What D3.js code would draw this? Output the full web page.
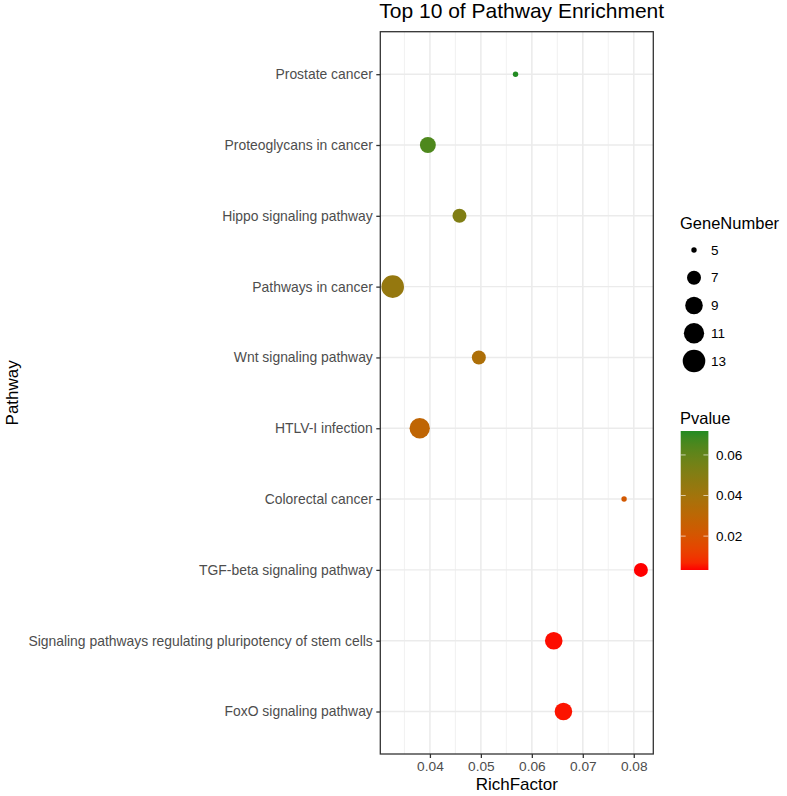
<!DOCTYPE html>
<html>
<head>
  <title>Top 10 of Pathway Enrichment</title>
  <script type="text/javascript" src="https://d3js.org/d3.v7.min.js"></script>
  <style>
    body { margin: 0; background: #fff; }
    text { font-family: "Liberation Sans", Arial, sans-serif; }
  </style>
</head>
<body>
  <div class="chart"></div>

  <script type="text/javascript">
    // pathways, top to bottom as drawn
    const pathways = [
      "Prostate cancer",
      "Proteoglycans in cancer",
      "Hippo signaling pathway",
      "Pathways in cancer",
      "Wnt signaling pathway",
      "HTLV-I infection",
      "Colorectal cancer",
      "TGF-beta signaling pathway",
      "Signaling pathways regulating pluripotency of stem cells",
      "FoxO signaling pathway"
    ];
    const richFactor = [0.0568, 0.0396, 0.0458, 0.0327, 0.0496, 0.0380, 0.0781, 0.0814, 0.0643, 0.0662];
    const geneNumber = [5, 8, 7, 13, 7, 11, 5, 7, 9, 9];
    const pvalue = [0.0718, 0.0650, 0.0515, 0.0445, 0.0360, 0.0292, 0.0218, 0.0033, 0.0040, 0.0045];

    const xTicks = [0.04, 0.05, 0.06, 0.07, 0.08];
    const sizeBreaks = [5, 7, 9, 11, 13];
    const pTicks = [0.02, 0.04, 0.06];

    const data = pathways.map((p, i) => ({
      name: p, rf: richFactor[i], n: geneNumber[i], p: pvalue[i]
    }));

    const width = 787, height = 796;
    const panel = { left: 380.3, right: 653.3, top: 31.7, bottom: 754 };

    const svg = d3.select(".chart").append("svg")
      .attr("width", width)
      .attr("height", height);

    // scales (ggplot-like 5% expansion on x)
    const ext = d3.extent(richFactor);
    const pad = (ext[1] - ext[0]) * 0.05;
    const x = d3.scaleLinear()
      .domain([ext[0] - pad, ext[1] + pad])
      .range([panel.left, panel.right]);

    const y = d3.scalePoint()
      .domain(pathways)
      .range([panel.top, panel.bottom])
      .padding(0.6);

    const nExt = d3.extent(geneNumber);
    const rLin = d3.scaleLinear().domain([0, 1]).range([2.7, 11.3]);
    const r = v => rLin(Math.sqrt((v - nExt[0]) / (nExt[1] - nExt[0])));

    const pExt = d3.extent(pvalue);
    const color = d3.scaleLinear()
      .domain(pExt)
      .range(["red", "forestgreen"])
      .interpolate(d3.interpolateLab);

    // panel grid
    const minor = d3.range(0.03, 0.0851, 0.005).filter(v => x(v) > panel.left && x(v) < panel.right);
    svg.selectAll("line.minor")
      .data(minor)
      .enter().append("line")
      .attr("class", "minor")
      .attr("x1", d => x(d)).attr("x2", d => x(d))
      .attr("y1", panel.top).attr("y2", panel.bottom)
      .attr("stroke", "#ebebeb").attr("stroke-width", 0.7);

    svg.selectAll("line.vmajor")
      .data(xTicks)
      .enter().append("line")
      .attr("class", "vmajor")
      .attr("x1", d => x(d)).attr("x2", d => x(d))
      .attr("y1", panel.top).attr("y2", panel.bottom)
      .attr("stroke", "#ebebeb").attr("stroke-width", 1.4);

    svg.selectAll("line.hmajor")
      .data(pathways)
      .enter().append("line")
      .attr("class", "hmajor")
      .attr("x1", panel.left).attr("x2", panel.right)
      .attr("y1", d => y(d)).attr("y2", d => y(d))
      .attr("stroke", "#ebebeb").attr("stroke-width", 1.4);

    // points
    svg.selectAll("circle.pt")
      .data(data)
      .enter().append("circle")
      .attr("class", "pt")
      .attr("cx", d => x(d.rf))
      .attr("cy", d => y(d.name))
      .attr("r", d => r(d.n))
      .attr("fill", d => color(d.p));

    // border
    svg.append("rect")
      .attr("x", panel.left).attr("y", panel.top)
      .attr("width", panel.right - panel.left)
      .attr("height", panel.bottom - panel.top)
      .attr("fill", "none").attr("stroke", "#333333").attr("stroke-width", 1.3);

    // x axis
    const xAxis = svg.append("g")
      .attr("transform", `translate(0,${panel.bottom})`)
      .call(d3.axisBottom(x).tickValues(xTicks).tickSize(4).tickPadding(3.5).tickFormat(d3.format(".2f")));
    xAxis.select(".domain").remove();
    xAxis.selectAll(".tick line").attr("stroke", "#333333").attr("stroke-width", 1.3);
    xAxis.selectAll(".tick text")
      .attr("fill", "#4d4d4d").attr("font-size", "13.7px")
      .style("font-family", "Liberation Sans, Arial, sans-serif");

    // y axis
    const yAxis = svg.append("g")
      .attr("transform", `translate(${panel.left},0)`)
      .call(d3.axisLeft(y).tickSize(4).tickPadding(3.5));
    yAxis.select(".domain").remove();
    yAxis.selectAll(".tick line").attr("stroke", "#333333").attr("stroke-width", 1.3);
    yAxis.selectAll(".tick text")
      .attr("fill", "#4d4d4d").attr("font-size", "13.9px")
      .style("font-family", "Liberation Sans, Arial, sans-serif");

    // titles
    svg.append("text")
      .attr("x", panel.left - 1).attr("y", 17.5)
      .attr("font-size", "21px").attr("fill", "#000")
      .text("Top 10 of Pathway Enrichment");

    svg.append("text")
      .attr("x", (panel.left + panel.right) / 2).attr("y", 790)
      .attr("text-anchor", "middle")
      .attr("font-size", "17px").attr("fill", "#000")
      .text("RichFactor");

    svg.append("text")
      .attr("transform", `translate(18,${(panel.top + panel.bottom) / 2}) rotate(-90)`)
      .attr("text-anchor", "middle")
      .attr("font-size", "17px").attr("fill", "#000")
      .text("Pathway");

    // size legend
    const legX = 680;
    svg.append("text")
      .attr("x", legX).attr("y", 229)
      .attr("font-size", "16.5px").attr("fill", "#000")
      .text("GeneNumber");

    const keyY = d3.scalePoint().domain(sizeBreaks).range([250, 361]);
    svg.selectAll("circle.key")
      .data(sizeBreaks)
      .enter().append("circle")
      .attr("class", "key")
      .attr("cx", 694)
      .attr("cy", d => keyY(d))
      .attr("r", d => r(d))
      .attr("fill", "#000");

    svg.selectAll("text.key")
      .data(sizeBreaks)
      .enter().append("text")
      .attr("class", "key")
      .attr("x", 711)
      .attr("y", d => keyY(d))
      .attr("dy", "0.35em")
      .attr("font-size", "13.5px").attr("fill", "#000")
      .text(d => d);

    // colour legend
    svg.append("text")
      .attr("x", legX).attr("y", 424)
      .attr("font-size", "16.5px").attr("fill", "#000")
      .text("Pvalue");

    const barTop = 431, barBottom = 570, barX = 680.7, barW = 27.7;
    const pY = d3.scaleLinear().domain(pExt).range([barBottom, barTop]);

    const grad = svg.append("defs").append("linearGradient")
      .attr("id", "pgrad")
      .attr("x1", 0).attr("y1", 1).attr("x2", 0).attr("y2", 0);
    d3.range(0, 1.0001, 0.05).forEach(t => {
      grad.append("stop")
        .attr("offset", t)
        .attr("stop-color", color(pExt[0] + t * (pExt[1] - pExt[0])));
    });

    svg.append("rect")
      .attr("x", barX).attr("y", barTop)
      .attr("width", barW).attr("height", barBottom - barTop)
      .attr("fill", "url(#pgrad)");

    svg.selectAll("line.ptickl")
      .data(pTicks)
      .enter().append("line")
      .attr("class", "ptickl")
      .attr("x1", barX).attr("x2", barX + 5)
      .attr("y1", d => pY(d)).attr("y2", d => pY(d))
      .attr("stroke", "#fff").attr("stroke-width", 0.8).attr("opacity", 0.8);

    svg.selectAll("line.ptickr")
      .data(pTicks)
      .enter().append("line")
      .attr("class", "ptickr")
      .attr("x1", barX + barW - 5).attr("x2", barX + barW)
      .attr("y1", d => pY(d)).attr("y2", d => pY(d))
      .attr("stroke", "#fff").attr("stroke-width", 0.8).attr("opacity", 0.8);

    svg.selectAll("text.plab")
      .data(pTicks)
      .enter().append("text")
      .attr("class", "plab")
      .attr("x", 716)
      .attr("y", d => pY(d))
      .attr("dy", "0.35em")
      .attr("font-size", "13.5px").attr("fill", "#000")
      .text(d => d3.format(".2f")(d));
  </script>
</body>
</html>
